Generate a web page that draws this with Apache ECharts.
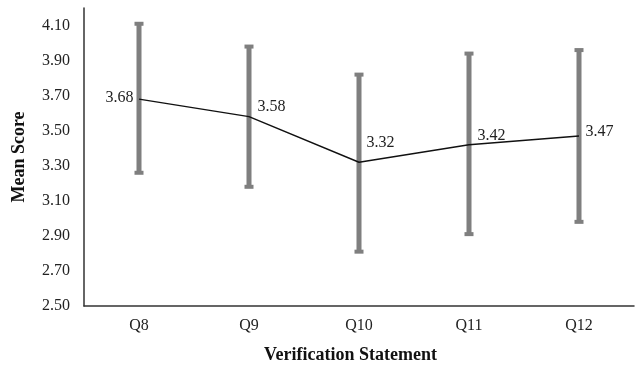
<!DOCTYPE html>
<html>
<head>
<meta charset="utf-8">
<script src="https://cdn.jsdelivr.net/npm/echarts@6/dist/echarts.min.js"></script>
<style>
  html, body { margin: 0; padding: 0; background: #fff; }
  #chart { width: 635px; height: 371px; }
</style>
</head>
<body>
<div id="chart"></div>
<script>
// Verification statements and their mean scores with error ranges
const categories = ['Q8', 'Q9', 'Q10', 'Q11', 'Q12'];
const meanScores = [3.68, 3.58, 3.32, 3.42, 3.47];
const lowerBounds = [3.26, 3.18, 2.81, 2.91, 2.98];
const upperBounds = [4.11, 3.98, 3.82, 3.94, 3.96];
const yTickLabels = ['2.50', '2.70', '2.90', '3.10', '3.30', '3.50', '3.70', '3.90', '4.10'];

// label placement per point [position, dx, dy]
const labelPlacement = [
  ['left', 1, -1],
  ['right', 2, -10],
  ['right', 1, -19],
  ['right', 2, -9],
  ['right', 0, -4]
];

const serif = '"Liberation Serif", "Times New Roman", serif';
const chart = echarts.init(document.getElementById('chart'), null, { renderer: 'canvas' });

const errorData = categories.map((c, i) => [i, lowerBounds[i], upperBounds[i]]);

chart.setOption({
  animation: false,
  backgroundColor: '#ffffff',
  grid: { left: 84, right: 1, top: 8, bottom: 65, outerBoundsMode: 'none', containLabel: false },
  xAxis: {
    type: 'category',
    data: categories,
    boundaryGap: true,
    axisLine: { lineStyle: { color: '#333', width: 1.5 } },
    axisTick: { show: false },
    axisLabel: { color: '#222', fontFamily: serif, fontSize: 16, margin: 12 },
    name: 'Verification Statement',
    nameLocation: 'middle',
    nameGap: 40,
    nameTextStyle: { color: '#111', fontFamily: serif, fontSize: 18, fontWeight: 'bold', padding: [0, 17, 0, 0] }
  },
  yAxis: {
    type: 'value',
    min: 2.5,
    max: 4.2,
    interval: 0.1,
    axisLine: { show: true, lineStyle: { color: '#333', width: 1.5 } },
    axisTick: { show: false },
    splitLine: { show: false },
    axisLabel: {
      color: '#222', fontFamily: serif, fontSize: 16, margin: 14,
      formatter: v => {
        const s = Number(v).toFixed(2);
        return yTickLabels.indexOf(s) >= 0 ? s : '';
      }
    },
    name: 'Mean Score',
    nameLocation: 'middle',
    nameGap: 56,
    nameTextStyle: { color: '#111', fontFamily: serif, fontSize: 18, fontWeight: 'bold' }
  },
  series: [
    {
      type: 'custom',
      name: 'range',
      z: 1,
      data: errorData,
      renderItem: (params, api) => {
        const x = api.value(0);
        const lo = api.coord([x, api.value(1)]);
        const hi = api.coord([x, api.value(2)]);
        const barW = 5, capW = 9, capH = 4;
        const style = { fill: '#7f7f7f' };
        return {
          type: 'group',
          children: [
            { type: 'rect', shape: { x: lo[0] - barW / 2, y: hi[1], width: barW, height: lo[1] - hi[1] }, style },
            { type: 'rect', shape: { x: hi[0] - capW / 2, y: hi[1] - capH / 2, width: capW, height: capH }, style },
            { type: 'rect', shape: { x: lo[0] - capW / 2, y: lo[1] - capH / 2, width: capW, height: capH }, style }
          ]
        };
      }
    },
    {
      type: 'line',
      name: 'mean',
      z: 5,
      data: meanScores.map((v, i) => ({
        value: v,
        label: {
          position: labelPlacement[i][0],
          offset: [labelPlacement[i][1], labelPlacement[i][2]]
        }
      })),
      showSymbol: true,
      symbol: 'circle',
      symbolSize: 1,
      itemStyle: { color: 'rgba(0,0,0,0)' },
      lineStyle: { color: '#111', width: 1.4 },
      label: {
        show: true,
        distance: 6,
        color: '#222',
        fontFamily: serif,
        fontSize: 16,
        formatter: p => p.value.toFixed(2)
      }
    }
  ]
});
</script>
</body>
</html>
